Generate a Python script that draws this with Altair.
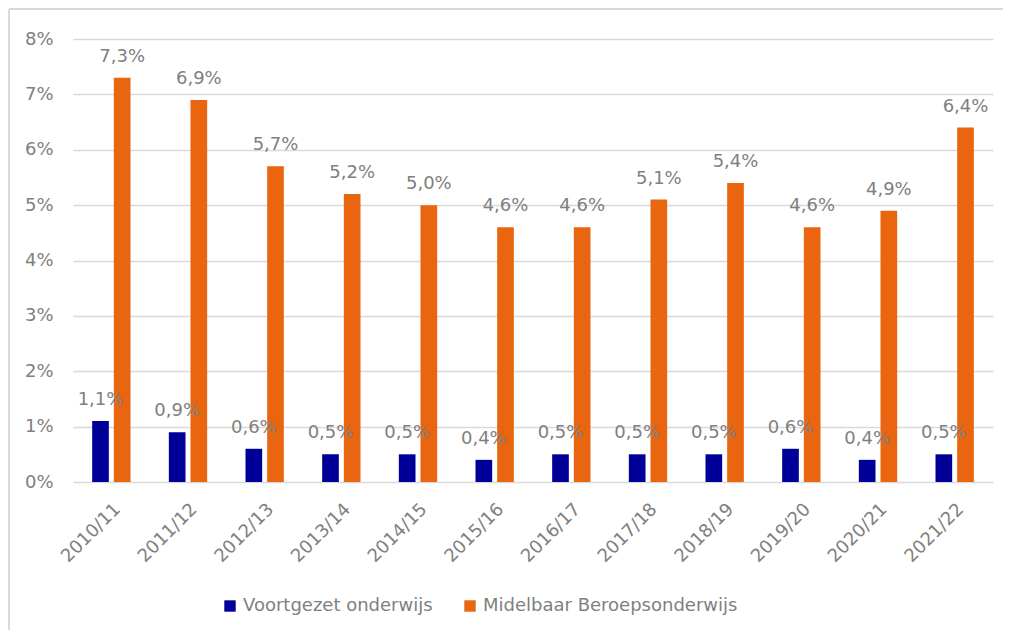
import altair as alt
import pandas as pd

years = ["2010/11", "2011/12", "2012/13", "2013/14", "2014/15", "2015/16",
         "2016/17", "2017/18", "2018/19", "2019/20", "2020/21", "2021/22"]
series = ["Voortgezet onderwijs", "Midelbaar Beroepsonderwijs"]
vo = [1.1, 0.9, 0.6, 0.5, 0.5, 0.4, 0.5, 0.5, 0.5, 0.6, 0.4, 0.5]
mbo = [7.3, 6.9, 5.7, 5.2, 5.0, 4.6, 4.6, 5.1, 5.4, 4.6, 4.9, 6.4]
colors = ["#000099", "#E9650F"]
y_ticks = [0, 1, 2, 3, 4, 5, 6, 7, 8]

rows = []
for s, vals in zip(series, [vo, mbo]):
    for yr, v in zip(years, vals):
        rows.append({"year": yr, "series": s, "value": v,
                     "label": f"{v:.1f}".replace(".", ",") + "%"})
df = pd.DataFrame(rows)

GRAY = "#808080"
FONT = "DejaVu Sans"
BORDER = "#d9d9d9"

x_enc = alt.X("year:N", sort=years, title=None,
              scale=alt.Scale(paddingInner=0.5, paddingOuter=0.25),
              axis=alt.Axis(labelAngle=-45, labelFontSize=18, labelColor=GRAY,
                            labelFont=FONT, domain=False, ticks=False,
                            labelPadding=18, grid=False))
xo_enc = alt.XOffset("series:N", sort=series,
                     scale=alt.Scale(paddingInner=0.23, paddingOuter=0))
y_enc = alt.Y("value:Q", title=None,
              scale=alt.Scale(domain=[0, 8], nice=False),
              axis=alt.Axis(values=y_ticks, labelExpr="datum.value + '%'",
                            labelFontSize=18, labelColor=GRAY, labelFont=FONT,
                            domain=False, ticks=False, labelPadding=20,
                            gridColor=BORDER, gridWidth=1.3))

bars = alt.Chart(df).mark_bar().encode(
    x=x_enc, xOffset=xo_enc, y=y_enc,
    color=alt.Color("series:N", sort=series,
                    scale=alt.Scale(domain=series, range=colors),
                    legend=alt.Legend(title=None, orient="none", legendX=148,
                                      legendY=558, direction="horizontal",
                                      symbolType="square", symbolSize=130,
                                      symbolStrokeWidth=0, labelFontSize=18,
                                      labelColor=GRAY, labelFont=FONT,
                                      labelLimit=0, columnPadding=28,
                                      labelOffset=4)),
)

labels = alt.Chart(df).mark_text(baseline="bottom", dy=-12, fontSize=18,
                                  color=GRAY, font=FONT).encode(
    x=alt.X("year:N", sort=years), xOffset=alt.XOffset("series:N", sort=series),
    y=alt.Y("value:Q"), text="label:N",
)

# light frame of the chart area (top and left edges, as in the reference)
frame_top = alt.Chart(df).mark_rule(color=BORDER, strokeWidth=1.5).encode(
    x=alt.value(-64), x2=alt.value(930), y=alt.value(-30))
frame_left = alt.Chart(df).mark_rule(color=BORDER, strokeWidth=1.5).encode(
    x=alt.value(-64), y=alt.value(-30), y2=alt.value(592))

chart = (frame_top + frame_left + bars + labels).properties(
    width=920, height=443,
    autosize=alt.AutoSizeParams(type="none"),
    padding={"left": 65, "top": 31, "right": 10, "bottom": 148},
).configure(background="white").configure_view(stroke=None)

chart.save("out.html", embed_options={"renderer": "svg", "actions": False})
